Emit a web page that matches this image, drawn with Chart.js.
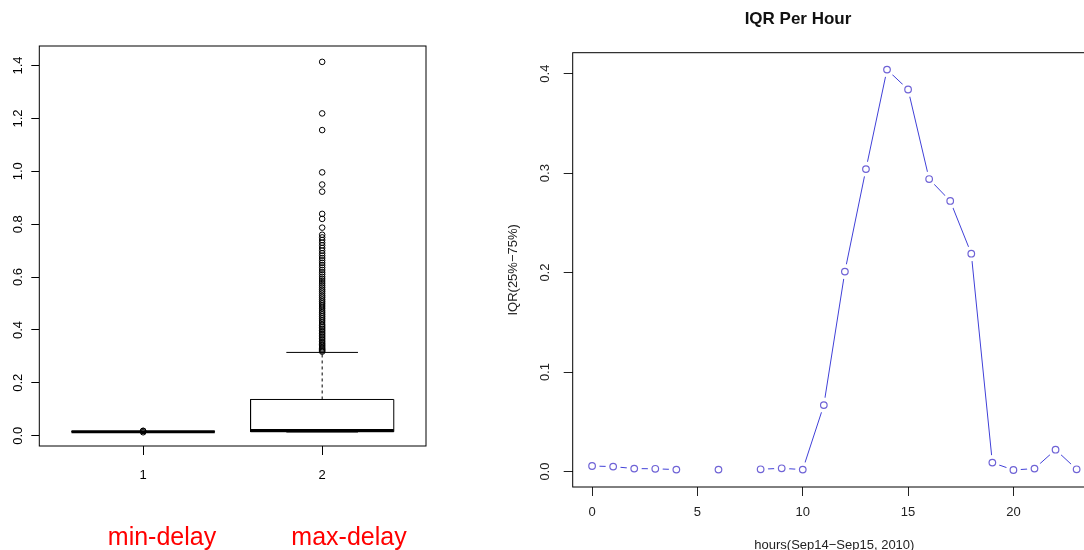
<!DOCTYPE html>
<html>

<head>
    <title>Delay boxplot and IQR per hour</title>
    <script src="https://cdn.jsdelivr.net/npm/chart.js"></script>
    <style>
        html,
        body {
            margin: 0;
            padding: 0;
            background: #fff;
            width: 1084px;
            height: 550px;
            overflow: hidden;
            position: relative;
        }

        #boxChart {
            position: absolute;
            left: 0;
            top: 0;
        }

        #iqrChart {
            position: absolute;
            left: 490px;
            top: 0;
        }

        /* red labels under the boxplot */
        .group-label {
            position: absolute;
            width: 200px;
            text-align: center;
            top: 524px;
            line-height: 25px;
            font-family: 'Liberation Sans', Arial, sans-serif;
            font-size: 25px;
            color: #ff0000;
        }
    </style>
</head>

<body>
    <canvas id="boxChart" width="440" height="550"></canvas>
    <canvas id="iqrChart" width="689" height="560"></canvas>
    <div class="group-label" style="left: 62px;">min-delay</div>
    <div class="group-label" style="left: 249px;">max-delay</div>

    <script>
        // ---- boxplot data (left panel) ----
        const boxPositions = [1, 2];
        const boxLower = [0.0145, 0.014];     // lower whisker end
        const boxQ1 = [0.0148, 0.015];
        const boxMedian = [0.015, 0.02];
        const boxQ3 = [0.0152, 0.137];
        const boxUpper = [0.0155, 0.315];     // upper whisker end
        const minDelayOutliers = [0.0175, 0.0185, 0.013];
        const maxDelayOutliers = [
            0.318, 0.322, 0.326, 0.33, 0.335, 0.34, 0.345, 0.35, 0.356, 0.362,
            0.368, 0.374, 0.38, 0.386, 0.392, 0.398, 0.404, 0.41, 0.416, 0.422,
            0.43, 0.437, 0.444, 0.451, 0.458, 0.465, 0.472, 0.48, 0.487, 0.494,
            0.501, 0.508, 0.515, 0.523, 0.53, 0.538, 0.546, 0.553, 0.561, 0.569,
            0.577, 0.585, 0.593, 0.601, 0.61, 0.618, 0.627, 0.636, 0.645, 0.654,
            0.663, 0.672, 0.681, 0.69, 0.7, 0.71, 0.72, 0.73, 0.74, 0.75,
            0.76, 0.787, 0.82, 0.839, 0.923, 0.95, 0.996, 1.156, 1.219, 1.414
        ];
        const boxXTicks = [1, 2];
        const boxYTicks = [0, 0.2, 0.4, 0.6, 0.8, 1.0, 1.2, 1.4];

        // ---- IQR per hour (right panel) ----
        const hours = [0, 1, 2, 3, 4, 5, 6, 7, 8, 9, 10, 11, 12, 13, 14, 15, 16, 17, 18, 19, 20, 21, 22, 23];
        const iqrValues = [0.0056, 0.005, 0.003, 0.0028, 0.002, null, 0.002, null, 0.0023, 0.0033, 0.002, 0.0668,
            0.201, 0.304, 0.404, 0.384, 0.294, 0.272, 0.219, 0.009, 0.0016, 0.003, 0.022, 0.0023];
        const iqrXTicks = [0, 5, 10, 15, 20];
        const iqrYTicks = [0, 0.1, 0.2, 0.3, 0.4];

        Chart.defaults.font.family = "'Liberation Sans', Arial, sans-serif";
        Chart.defaults.font.size = 13;
        Chart.defaults.color = '#000';

        // draws the R style box around the plot region
        const framePlugin = {
            id: 'frame',
            afterDatasetsDraw(chart) {
                const a = chart.chartArea;
                const c = chart.ctx;
                c.save();
                c.strokeStyle = '#000';
                c.lineWidth = 1;
                c.strokeRect(a.left, a.top, a.right - a.left, a.bottom - a.top);
                c.restore();
            }
        };

        function fixedTicks(values) {
            return function(scale) {
                scale.ticks = values.map(v => ({ value: v }));
            };
        }

        // ---- build boxplot datasets from the stats arrays ----
        const halfWidth = 0.4;
        const boxDatasets = [];
        function segment(points, extra) {
            return Object.assign({
                data: points,
                showLine: true,
                borderColor: '#000',
                borderWidth: 1,
                pointRadius: 0,
                fill: false
            }, extra || {});
        }
        boxPositions.forEach(function(x, i) {
            boxDatasets.push(segment([
                { x: x - halfWidth, y: boxQ1[i] }, { x: x + halfWidth, y: boxQ1[i] },
                { x: x + halfWidth, y: boxQ3[i] }, { x: x - halfWidth, y: boxQ3[i] },
                { x: x - halfWidth, y: boxQ1[i] }
            ]));
            boxDatasets.push(segment([{ x: x, y: boxQ3[i] }, { x: x, y: boxUpper[i] }], { borderDash: [3, 3] }));
            boxDatasets.push(segment([{ x: x, y: boxLower[i] }, { x: x, y: boxQ1[i] }], { borderDash: [3, 3] }));
            boxDatasets.push(segment([{ x: x - halfWidth / 2, y: boxUpper[i] }, { x: x + halfWidth / 2, y: boxUpper[i] }]));
            boxDatasets.push(segment([{ x: x - halfWidth / 2, y: boxLower[i] }, { x: x + halfWidth / 2, y: boxLower[i] }]));
            boxDatasets.push(segment([{ x: x - halfWidth, y: boxMedian[i] }, { x: x + halfWidth, y: boxMedian[i] }], { borderWidth: 3 }));
        });
        [minDelayOutliers, maxDelayOutliers].forEach(function(list, i) {
            boxDatasets.push({
                data: list.map(v => ({ x: boxPositions[i], y: v })),
                showLine: false,
                pointStyle: 'circle',
                pointRadius: 2.8,
                pointBorderWidth: 1,
                pointBorderColor: '#000',
                pointBackgroundColor: 'rgba(0,0,0,0)'
            });
        });

        new Chart(document.getElementById('boxChart'), {
            type: 'scatter',
            data: { datasets: boxDatasets },
            options: {
                responsive: false,
                animation: false,
                events: [],
                layout: { padding: { left: 0, top: 46, right: 14, bottom: 0 } },
                plugins: { legend: { display: false }, tooltip: { enabled: false } },
                scales: {
                    x: {
                        type: 'linear',
                        min: 0.42,
                        max: 2.58,
                        afterBuildTicks: fixedTicks(boxXTicks),
                        afterFit(scale) { scale.height = 104; },
                        border: { display: false },
                        grid: { drawOnChartArea: false, tickLength: 9, color: '#000' },
                        ticks: { padding: 13, callback: v => String(v) }
                    },
                    y: {
                        min: -0.039,
                        max: 1.474,
                        afterBuildTicks: fixedTicks(boxYTicks),
                        afterFit(scale) { scale.width = 39.3; },
                        border: { display: false },
                        grid: { drawOnChartArea: false, tickLength: 8, color: '#000' },
                        ticks: {
                            minRotation: 90,
                            maxRotation: 90,
                            crossAlign: 'center',
                            padding: 4,
                            callback: v => v.toFixed(1)
                        }
                    }
                }
            },
            plugins: [framePlugin]
        });

        // ---- IQR per hour line ----
        const iqrPoints = hours.map((h, i) => ({ x: h, y: iqrValues[i] }));

        new Chart(document.getElementById('iqrChart'), {
            type: 'line',
            data: {
                datasets: [{
                    // line with white discs that leave the gaps around each point
                    data: iqrPoints,
                    borderColor: '#4040d8',
                    borderWidth: 1,
                    pointRadius: 7.5,
                    pointBorderWidth: 0,
                    pointBackgroundColor: '#fff',
                    pointBorderColor: '#fff',
                    spanGaps: false,
                    order: 1
                }, {
                    data: iqrPoints,
                    showLine: false,
                    pointRadius: 3.3,
                    pointBorderWidth: 1.2,
                    pointBorderColor: '#6f63d6',
                    pointBackgroundColor: 'rgba(0,0,0,0)',
                    order: 0
                }]
            },
            options: {
                responsive: false,
                animation: false,
                events: [],
                layout: { padding: { left: 10, top: 0, right: 83, bottom: 0 } },
                plugins: {
                    legend: { display: false },
                    tooltip: { enabled: false },
                    title: {
                        display: true,
                        text: 'IQR Per Hour',
                        color: '#111',
                        font: { size: 17, weight: 'bold' },
                        padding: { top: 8.8, bottom: 23.5 }
                    }
                },
                scales: {
                    x: {
                        type: 'linear',
                        min: -0.92,
                        max: 23.92,
                        afterBuildTicks: fixedTicks(iqrXTicks),
                        afterFit(scale) { scale.height = 73; },
                        border: { display: false },
                        grid: { drawOnChartArea: false, tickLength: 9, color: '#222' },
                        ticks: { padding: 9, color: '#222', callback: v => String(v) },
                        title: {
                            display: true,
                            text: 'hours(Sep14\u2212Sep15, 2010)',
                            color: '#222',
                            padding: { top: 0, bottom: 7.2 }
                        }
                    },
                    y: {
                        min: -0.0155,
                        max: 0.421,
                        afterBuildTicks: fixedTicks(iqrYTicks),
                        afterFit(scale) { scale.width = 72.7; },
                        border: { display: false },
                        grid: { drawOnChartArea: false, tickLength: 9, color: '#222' },
                        ticks: {
                            minRotation: 90,
                            maxRotation: 90,
                            crossAlign: 'center',
                            padding: 9.7,
                            color: '#222',
                            callback: v => v.toFixed(1)
                        },
                        title: {
                            display: true,
                            text: 'IQR(25%\u221275%)',
                            color: '#222',
                            padding: { top: 6, bottom: 0 }
                        }
                    }
                }
            },
            plugins: [framePlugin]
        });
    </script>
</body>

</html>
